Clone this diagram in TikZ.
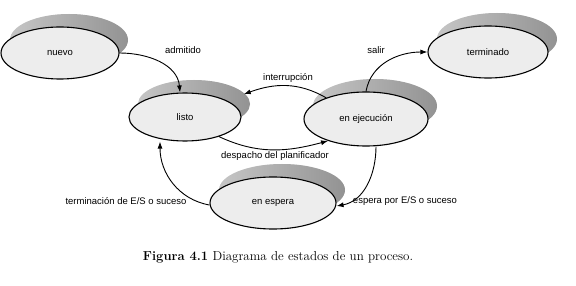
\documentclass[tikz,border=0pt]{standalone}
\usepackage{fontspec}
\setsansfont{Liberation Sans}
\usetikzlibrary{shapes.geometric,shadows,arrows.meta}
\begin{document}
\begin{tikzpicture}[x=1pt,y=-1pt,
  state/.style={ellipse,draw=black,line width=1.1pt,fill=gray!14,
    minimum width=118pt,minimum height=52pt,inner sep=0pt,
    font=\sffamily\fontsize{9.5}{11}\selectfont,
    copy shadow={shadow xshift=9pt,shadow yshift=13pt,draw=none,
      left color=gray!45,right color=gray!85}},
  lbl/.style={font=\sffamily\fontsize{9.5}{11}\selectfont,inner sep=1pt},
  conn/.style={line width=0.9pt,-{Latex[length=7pt,width=5pt]}}]
\useasboundingbox (0,0) rectangle (576,286);

% states
\node[state] (nuevo) at (60,53) {nuevo};
\node[state,minimum width=112pt,minimum height=48pt] (listo) at (185,117) {listo};
\node[state,minimum width=124pt,minimum height=54pt] (ejec) at (366,119) {en ejecución};
\node[state,minimum width=120pt] (term) at (488,52) {terminado};
\node[state,minimum width=126pt] (espera) at (273,203) {en espera};

% the interrupt arc ends on the shadow of "listo"
\coordinate (listoback) at ([xshift=8pt,yshift=12pt]listo.12);

% transitions
\draw[conn] (nuevo.east) to[out=0,in=95] ([xshift=-5pt]listo.north);
\draw[conn] (ejec.152) to[out=150,in=20] (listoback);
\draw[conn] (listo.-30) to[out=-25,in=195] (ejec.210);
\draw[conn] (ejec.north) to[out=80,in=180] (term.west);
\draw[conn] ([xshift=10pt]ejec.south) to[out=-90,in=10] ([yshift=-3pt]espera.east);
\draw[conn] ([yshift=-2pt]espera.west) to[out=170,in=-90] ([xshift=-25pt]listo.south);

% labels
\node[lbl] (l1) at (183,50) {admitido};
\node[lbl] (l2) at (288,78) {interrupción};
\node[lbl] (l3) at (376,50) {salir};
\node[lbl] (l4) at (275,156) {despacho del planificador};
\node[lbl] (l5) at (126,201) {terminación de E/S o suceso};
\node[lbl] (l6) at (405,201) {espera por E/S o suceso};

% caption
\node[font=\rmfamily\fontsize{13}{15}\selectfont] (cap) at (278,257)
  {\textbf{Figura 4.1} Diagrama de estados de un proceso.};
\end{tikzpicture}
\end{document}
